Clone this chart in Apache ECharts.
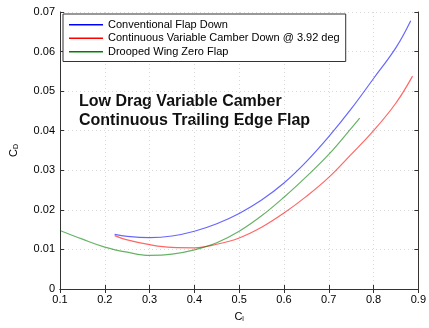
<!DOCTYPE html>
<html><head><meta charset="utf-8">
<script src="https://cdn.jsdelivr.net/npm/echarts@6/dist/echarts.min.js"></script>
<style>html,body{margin:0;padding:0;background:#fff}#c{width:429px;height:328px}</style>
</head><body><div id="c"></div>
<script>
const seriesNames = ['Conventional Flap Down','Continuous Variable Camber Down @ 3.92 deg','Drooped Wing Zero Flap'];
const xTicks = [0.1,0.2,0.3,0.4,0.5,0.6,0.7,0.8,0.9];
const blueCl = [0.222,0.25,0.30,0.35,0.40,0.45,0.50,0.55,0.60,0.65,0.70,0.75,0.80,0.85,0.883];
const blueCd = [0.0138,0.0133,0.0130,0.0134,0.0146,0.0165,0.0191,0.0225,0.0268,0.0322,0.0385,0.0455,0.0532,0.0610,0.0678];
const redCl = [0.222,0.25,0.30,0.35,0.40,0.45,0.50,0.55,0.60,0.65,0.70,0.75,0.80,0.85,0.887];
const redCd = [0.0135,0.0124,0.0112,0.0105,0.0104,0.0113,0.0129,0.0156,0.0192,0.0234,0.0282,0.0340,0.0400,0.0470,0.0538];
const greenCl = [0.10,0.15,0.20,0.25,0.30,0.35,0.40,0.45,0.50,0.55,0.60,0.65,0.70,0.75,0.769];
const greenCd = [0.0148,0.0126,0.0106,0.0093,0.0085,0.0088,0.0099,0.0117,0.0146,0.0185,0.0232,0.0284,0.0340,0.0406,0.0432];

const zip = (a,b)=>a.map((v,i)=>[v,b[i]]);
const font = 'Liberation Sans, Arial, sans-serif';
const axisLine = {show:true, lineStyle:{color:'#333', width:1}};
const tick = {show:true, inside:true, length:4, lineStyle:{color:'#333'}};
const chart = echarts.init(document.getElementById('c'), null, {renderer:'canvas'});
const lineS = (name, data, color)=>({
  name, type:'line', data, smooth:0.4, showSymbol:false, symbol:'none', color,
  lineStyle:{color, width:1.2, opacity:0.6}, xAxisIndex:0, yAxisIndex:0, animation:false
});
chart.setOption({
  animation:false,
  grid:{left:58, right:6, top:12, bottom:29, show:false},
  xAxis:[{
    type:'value', min:0.1, max:0.9, interval:0.1, position:'bottom',
    axisLine, axisTick:tick,
    axisLabel:{color:'#000', fontFamily:font, fontSize:11, margin:5, formatter:v=>String(+v.toFixed(1))},
    splitLine:{show:true, lineStyle:{color:'#d8d8d8', type:[1,3]}},
    name:'C{s|l}', nameLocation:'middle', nameGap:21,
    nameTextStyle:{color:'#000', fontFamily:font, fontSize:11, rich:{s:{fontSize:7, verticalAlign:'bottom', padding:[6,0,0,0]}}}
  },{
    type:'value', min:0.1, max:0.9, interval:0.1, position:'top',
    axisLine, axisTick:tick, axisLabel:{show:false}, splitLine:{show:false}
  }],
  yAxis:[{
    type:'value', min:0, max:0.07, interval:0.01, position:'left',
    axisLine, axisTick:tick,
    axisLabel:{color:'#000', fontFamily:font, fontSize:11, margin:5, formatter:v=>v===0?'0':String(+v.toFixed(2))},
    splitLine:{show:true, lineStyle:{color:'#d8d8d8', type:[1,3]}},
    name:'C{s|D}', nameLocation:'middle', nameGap:40, nameRotate:90,
    nameTextStyle:{color:'#000', fontFamily:font, fontSize:11, rich:{s:{fontSize:7, padding:[6,0,0,0]}}}
  },{
    type:'value', min:0, max:0.07, interval:0.01, position:'right',
    axisLine, axisTick:tick, axisLabel:{show:false}, splitLine:{show:false}
  }],
  legend:{
    orient:'vertical', left:63, top:14, padding:[4,6,3,6], itemGap:0,
    itemWidth:34, itemHeight:1.5, icon:'rect',
    backgroundColor:'#fff', borderColor:'#333', borderWidth:1,
    textStyle:{color:'#000', fontFamily:font, fontSize:11, lineHeight:13.5, padding:[0,0,0,0]},
    itemStyle:{opacity:1},
    data:seriesNames
  },
  graphic:[{
    type:'text', left:79, top:92,
    style:{text:'Low Drag Variable Camber\nContinuous Trailing Edge Flap', fill:'#111', font:'bold 16px '+font, lineHeight:19}
  }],
  series:[
    lineS(seriesNames[0], zip(blueCl, blueCd), '#0000ff'),
    lineS(seriesNames[1], zip(redCl, redCd), '#ff0000'),
    lineS(seriesNames[2], zip(greenCl, greenCd), '#008000')
  ]
});
</script></body></html>
